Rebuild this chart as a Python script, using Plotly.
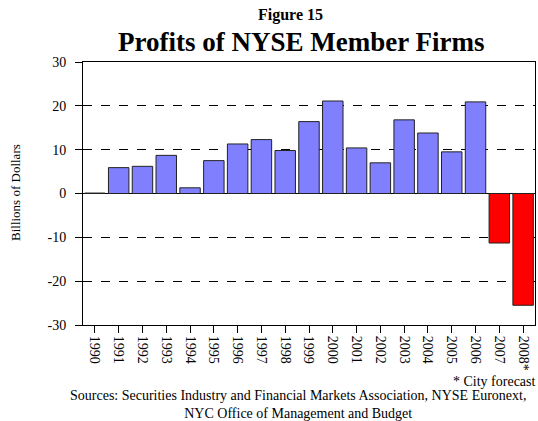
import plotly.graph_objects as go

years = ["1990", "1991", "1992", "1993", "1994", "1995", "1996", "1997", "1998", "1999",
         "2000", "2001", "2002", "2003", "2004", "2005", "2006", "2007", "2008*"]
profits = [0.1, 5.9, 6.2, 8.7, 1.3, 7.5, 11.3, 12.3, 9.8, 16.4,
           21.1, 10.4, 7.0, 16.8, 13.8, 9.5, 20.9, -11.3, -25.5]
colors = ["#8080FF" if v >= 0 else "#FF0000" for v in profits]
y_ticks = [-30, -20, -10, 0, 10, 20, 30]
y_tick_text = ["-30", "-20", "-10", "0", "10", "20", "30"]

FONT = "Liberation Serif"

L, R, T, B = 83, 3, 62, 96
W, H = 538, 421
PW, PH = W - L - R, H - T - B


def px(x):
    return (x - L) / PW


def py(y):
    return (H - B - y) / PH


fig = go.Figure()
fig.add_trace(go.Bar(
    x=years, y=profits,
    marker=dict(color=colors, line=dict(color="#222222", width=1)),
    hoverinfo="x+y",
))

fig.update_layout(
    width=W, height=H,
    margin=dict(l=L, r=R, t=T, b=B),
    paper_bgcolor="white", plot_bgcolor="white",
    bargap=0.14,
    showlegend=False,
    font=dict(family=FONT, color="black", size=13),
    xaxis=dict(
        type="category",
        tickangle=90,
        ticks="outside", ticklen=7, tickcolor="black",
        showline=True, linecolor="black", linewidth=1, mirror=True,
        showgrid=False,
        tickfont=dict(family=FONT, size=14),
    ),
    yaxis=dict(
        range=[-30, 30],
        tickvals=y_ticks, ticktext=y_tick_text,
        ticks="outside", ticklen=7, tickcolor="black",
        ticklabelstandoff=6,
        showline=True, linecolor="black", linewidth=1, mirror=True,
        showgrid=True, gridcolor="black", griddash="dash", gridwidth=1,
        zeroline=True, zerolinecolor="black", zerolinewidth=1,
        tickfont=dict(family=FONT, size=14),
    ),
)

fig.add_annotation(text="Billions of Dollars", xref="paper", yref="paper",
                   x=px(15), y=py(193), showarrow=False, textangle=-90,
                   font=dict(family=FONT, size=13), xanchor="center", yanchor="middle")
fig.add_annotation(text="<b>Figure 15</b>", xref="paper", yref="paper",
                   x=px(290), y=py(15), showarrow=False,
                   font=dict(family=FONT, size=16), xanchor="center", yanchor="middle")
fig.add_annotation(text="<b>Profits of NYSE Member Firms</b>", xref="paper", yref="paper",
                   x=px(301), y=py(42), showarrow=False,
                   font=dict(family=FONT, size=27), xanchor="center", yanchor="middle")
fig.add_annotation(text="* City forecast", xref="paper", yref="paper",
                   x=px(538), y=py(381), showarrow=False,
                   font=dict(family=FONT, size=14), xanchor="right", yanchor="middle")
fig.add_annotation(text="Sources: Securities Industry and Financial Markets Association, NYSE Euronext,<br>NYC Office of Management and Budget",
                   xref="paper", yref="paper",
                   x=px(298), y=py(404), showarrow=False,
                   font=dict(family=FONT, size=14), xanchor="center", yanchor="middle",
                   align="center")

fig.write_html("out.html", config={"displayModeBar": False},
               post_script="document.body.style.margin='0';document.body.style.overflow='hidden';")
